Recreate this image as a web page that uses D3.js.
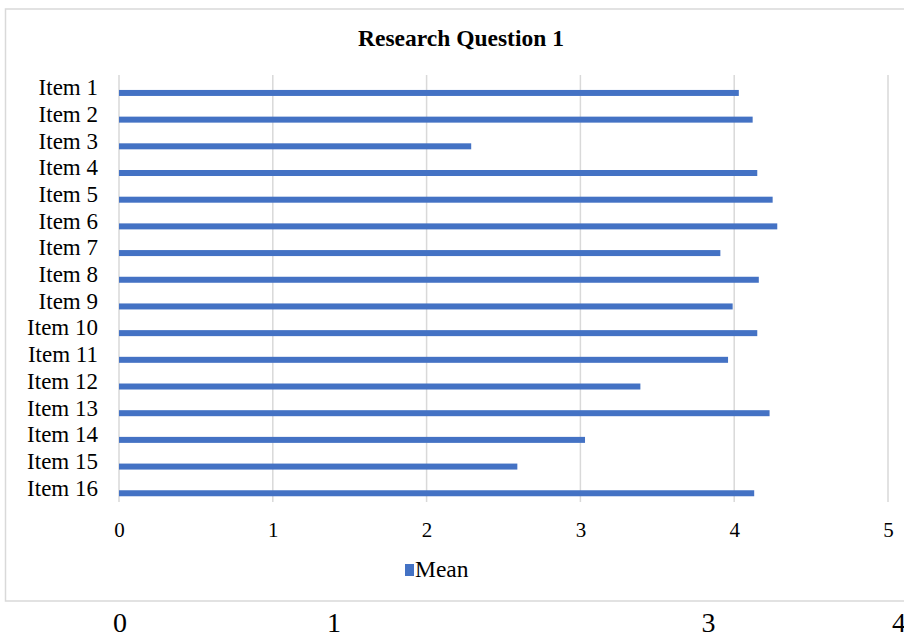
<!DOCTYPE html>
<html>
<head>
<meta charset="utf-8">
<script src="https://cdn.jsdelivr.net/npm/d3@7"></script>
<style>
  body { margin: 0; background: #fff; }
  text { font-family: "Liberation Serif", "Times New Roman", serif; fill: #000; }
</style>
</head>
<body>
<script>
// chart values
const items = ['Item 1', 'Item 2', 'Item 3', 'Item 4', 'Item 5', 'Item 6', 'Item 7', 'Item 8',
    'Item 9', 'Item 10', 'Item 11', 'Item 12', 'Item 13', 'Item 14', 'Item 15', 'Item 16']
const means = [4.03, 4.12, 2.29, 4.15, 4.25, 4.28, 3.91, 4.16,
    3.99, 4.15, 3.96, 3.39, 4.23, 3.03, 2.59, 4.13]
const xTicks = [0, 1, 2, 3, 4, 5]
// stray labels of another picture peeking in under the chart
const strayLabels = ['0', '1', '3', '4']
const strayValues = [0, 1, 2.75, 3.64]

const width = 904, height = 637
const plot = { left: 119, right: 888, top: 75, bottom: 502 }

const svg = d3.select('body').append('svg')
    .attr('width', width)
    .attr('height', height)

// chart frame
svg.append('rect')
    .attr('x', 5.5)
    .attr('y', 9)
    .attr('width', 920)
    .attr('height', 592)
    .attr('fill', '#fff')
    .attr('stroke', '#d9d9d9')
    .attr('stroke-width', 1.5)

svg.append('text')
    .attr('x', 461)
    .attr('y', 46)
    .attr('text-anchor', 'middle')
    .style('font-size', '23.5px')
    .style('font-weight', 'bold')
    .text('Research Question 1')

const xScale = d3.scaleLinear()
    .domain([0, 5])
    .range([plot.left, plot.right])

const yScale = d3.scaleBand()
    .domain(items)
    .range([plot.top, plot.bottom])

// vertical grid lines
svg.append('g')
    .selectAll('line')
    .data(xTicks)
    .enter()
    .append('line')
    .attr('x1', d => xScale(d))
    .attr('x2', d => xScale(d))
    .attr('y1', plot.top)
    .attr('y2', plot.bottom)
    .attr('stroke', '#d9d9d9')
    .attr('stroke-width', 1.5)

// x axis labels
const xAxis = svg.append('g')
    .attr('transform', 'translate(0,' + 522 + ')')
    .call(d3.axisBottom(xScale).tickValues(xTicks).tickSize(0).tickPadding(0).tickFormat(d3.format('d')))
xAxis.select('.domain').remove()
xAxis.selectAll('text')
    .attr('dy', '0.71em')
    .style('font-size', '21px')
    .style('font-family', '"Liberation Serif", serif')

// y axis labels
const yAxis = svg.append('g')
    .attr('transform', 'translate(98,0)')
    .call(d3.axisLeft(yScale).tickSize(0).tickPadding(0))
yAxis.select('.domain').remove()
yAxis.selectAll('text')
    .attr('dy', '0.3em')
    .style('font-size', '23px')
    .style('font-family', '"Liberation Serif", serif')

// bars
svg.selectAll('.bar')
    .data(items)
    .enter()
    .append('rect')
    .attr('class', 'bar')
    .attr('x', xScale(0))
    .attr('y', d => yScale(d) + yScale.bandwidth() * 0.56)
    .attr('width', (d, i) => xScale(means[i]) - xScale(0))
    .attr('height', 6)
    .attr('fill', '#4472c4')

// legend
svg.append('rect')
    .attr('x', 405)
    .attr('y', 564)
    .attr('width', 9)
    .attr('height', 12)
    .attr('fill', '#4472c4')
svg.append('text')
    .attr('x', 415)
    .attr('y', 577)
    .style('font-size', '23.5px')
    .text('Mean')

// labels below the frame
svg.selectAll('.stray')
    .data(strayLabels)
    .enter()
    .append('text')
    .attr('class', 'stray')
    .attr('x', (d, i) => 120 + strayValues[i] * 214)
    .attr('y', 632)
    .attr('text-anchor', 'middle')
    .style('font-size', '28px')
    .text(d => d)
</script>
</body>
</html>
